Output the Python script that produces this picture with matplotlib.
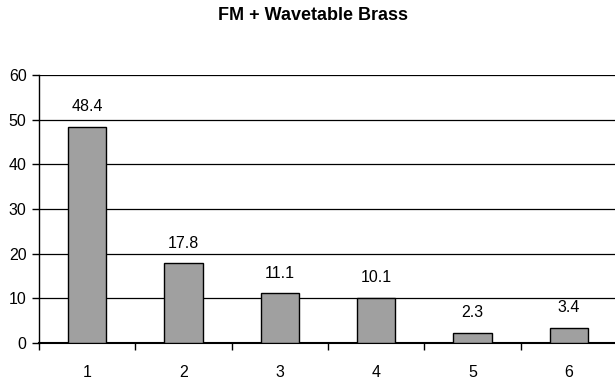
import matplotlib.pyplot as plt
import numpy as np

categories = ["1", "2", "3", "4", "5", "6"]
values = [48.4, 17.8, 11.1, 10.1, 2.3, 3.4]
yticks = [0, 10, 20, 30, 40, 50, 60]

plt.rcParams["font.family"] = ["Liberation Sans", "DejaVu Sans"]

fig = plt.figure(figsize=(6.15, 3.83), dpi=100)
ax = fig.add_axes([39 / 615, 40 / 383, 578 / 615, 268 / 383])

x = np.arange(1, len(categories) + 1)
ax.bar(x, values, width=0.4, color="#a0a0a0", edgecolor="black", linewidth=1.0, zorder=3)

for xi, v in zip(x, values):
    ax.annotate(f"{v}", (xi, v), xytext=(0, 9), textcoords="offset points",
                ha="center", va="bottom", fontsize=11.5)

ax.set_xlim(0.5, 6.5)
ax.set_ylim(0, 60)
ax.set_yticks(yticks)
ax.yaxis.grid(True, color="black", linewidth=0.9)
ax.set_axisbelow(True)

# ticks between categories, labels centred under bars
ax.set_xticks(np.arange(0.5, 7.0, 1.0))
ax.set_xticklabels([])
ax.set_xticks(x, minor=True)
ax.set_xticklabels(categories, minor=True)
ax.tick_params(axis="x", which="major", direction="out", length=5, width=1)
ax.tick_params(axis="x", which="minor", length=0, pad=16, labelsize=11.5)
ax.tick_params(axis="y", direction="out", length=5, width=1, pad=4, labelsize=11.5)

for side in ["top", "right"]:
    ax.spines[side].set_visible(False)
ax.spines["left"].set_linewidth(1.0)
ax.spines["bottom"].set_linewidth(1.5)

fig.text(313 / 615, 1 - 15 / 383, "FM + Wavetable Brass", ha="center", va="center",
         fontsize=13, fontweight="bold",
         family=["Liberation Sans Narrow", "Liberation Sans", "DejaVu Sans"])

fig.savefig("out.png", dpi=100)
